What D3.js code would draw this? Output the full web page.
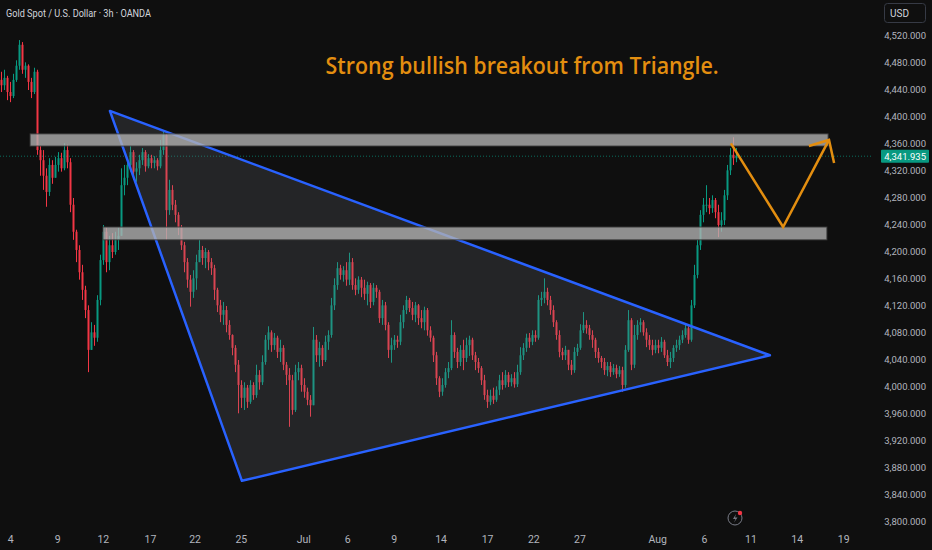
<!DOCTYPE html>
<html lang="en">
<head>
  <meta charset="UTF-8">
  <title>Gold Spot / U.S. Dollar 3h</title>
  <script src="https://d3js.org/d3.v7.min.js"></script>
  <style>
    html, body { margin: 0; padding: 0; background: #0f0f0f; overflow: hidden; }
    svg { display: block; }
  </style>
</head>
<body>
<script type="text/javascript">
    var width = 932, height = 550;

    // 3h candles (open = previous close)
    var firstOpen = 4455;
    var closes = [4447,4458,4437,4431,4455,4476,4507,4470,4476,4452,4437,4467,4351,4336,4313,4289,4329,4310,4329,4339,
      4324,4351,4333,4270,4230,4203,4170,4144,4114,4055,4081,4073,4129,4188,4230,4185,4210,4200,4218,4224,
      4299,4310,4329,4348,4319,4324,4336,4348,4327,4339,4332,4336,4327,4351,4373,4262,4292,4270,4255,4236,
      4210,4185,4159,4141,4161,4185,4203,4191,4200,4185,4176,4144,4121,4107,4114,4092,4077,4058,4033,4003,
      3984,3999,3978,4003,3988,4018,4007,4037,4070,4081,4062,4073,4052,4058,4033,4018,4010,3966,4022,4028,
      4003,3993,3981,3973,4070,4047,4058,4040,4067,4077,4121,4151,4176,4166,4173,4159,4185,4151,4144,4159,
      4147,4138,4151,4126,4147,4141,4102,4121,4092,4055,4062,4070,4067,4096,4114,4129,4117,4107,4121,4102,
      4096,4114,4084,4073,4047,4013,3993,4003,4022,4028,4077,4052,4037,4055,4043,4062,4070,4047,4037,4028,
      4010,3988,3978,3987,3981,3996,4010,4003,4018,4007,4013,4004,4022,4047,4058,4073,4067,4077,4073,4129,
      4132,4141,4129,4114,4096,4077,4052,4047,4055,4033,4025,4052,4058,4084,4092,4087,4077,4070,4052,4043,
      4037,4025,4031,4022,4028,4019,4025,4003,4055,4099,4033,4077,4092,4096,4081,4070,4062,4055,4062,4058,
      4067,4047,4037,4043,4058,4062,4070,4077,4087,4070,4121,4166,4210,4255,4270,4270,4265,4277,4259,4240,
      4247,4284,4321,4344,4339,4341.935];
    var highs = [4467,4470,4461,4452,4464,4484,4514,4511,4481,4478,4458,4473,4470,4357,4351,4324,4339,4336,4341,4348,
      4347,4361,4359,4339,4280,4233,4210,4181,4150,4121,4096,4092,4136,4196,4240,4236,4224,4228,4230,4236,
      4324,4329,4339,4357,4351,4333,4344,4354,4351,4345,4344,4342,4339,4366,4378,4375,4307,4299,4277,4259,
      4240,4215,4191,4166,4173,4196,4218,4209,4206,4203,4191,4181,4147,4129,4126,4120,4099,4078,4062,4040,
      4010,4007,4003,4010,4007,4033,4025,4047,4077,4090,4084,4080,4076,4070,4062,4037,4028,4018,4033,4037,
      4033,4013,3999,3988,4089,4077,4067,4062,4076,4084,4132,4161,4185,4181,4179,4185,4199,4191,4161,4164,
      4163,4159,4156,4154,4154,4151,4144,4129,4126,4096,4073,4077,4076,4107,4121,4135,4132,4126,4126,4123,
      4114,4119,4117,4090,4076,4052,4016,4013,4028,4037,4099,4081,4058,4062,4070,4073,4076,4073,4052,4043,
      4031,4018,3996,3996,3999,4001,4018,4022,4025,4022,4019,4022,4033,4059,4065,4079,4080,4084,4084,4136,
      4141,4161,4147,4135,4121,4099,4084,4058,4061,4055,4040,4059,4064,4093,4111,4099,4092,4084,4073,4058,
      4046,4043,4037,4037,4034,4033,4031,4030,4062,4114,4102,4092,4099,4102,4099,4087,4077,4070,4070,4070,
      4074,4070,4055,4052,4062,4070,4076,4084,4092,4090,4129,4181,4218,4262,4280,4299,4280,4284,4280,4270,
      4259,4292,4329,4354,4370,4354];
    var lows = [4437,4440,4425,4422,4428,4452,4470,4464,4458,4440,4428,4434,4344,4313,4292,4267,4283,4301,4313,4319,
      4319,4321,4324,4259,4218,4185,4159,4129,4102,4022,4062,4061,4067,4121,4181,4170,4173,4191,4196,4203,
      4277,4284,4299,4319,4307,4304,4314,4329,4319,4324,4324,4324,4321,4324,4344,4218,4255,4262,4244,4225,
      4203,4170,4147,4119,4132,4144,4185,4181,4176,4173,4166,4129,4111,4096,4092,4081,4070,4047,4022,3961,
      3969,3966,3969,3975,3981,3984,3996,4003,4033,4055,4052,4055,4043,4037,4025,4003,3941,3959,3963,4010,
      3993,3984,3973,3956,3973,4037,4030,4031,4037,4055,4073,4114,4144,4159,4156,4150,4151,4144,4136,4138,
      4133,4129,4121,4117,4121,4132,4095,4092,4084,4043,4036,4055,4058,4062,4087,4108,4111,4099,4096,4092,
      4087,4084,4076,4067,4037,4003,3985,3987,3999,4013,4025,4043,4028,4031,4025,4037,4046,4040,4025,4021,
      4003,3981,3969,3973,3975,3978,3988,3996,3999,4000,4001,3999,4000,4018,4040,4052,4058,4062,4067,4070,
      4120,4124,4121,4107,4089,4070,4044,4040,4040,4025,4018,4021,4046,4055,4080,4079,4070,4058,4043,4036,
      4028,4018,4016,4015,4018,4013,4015,3993,3999,4052,4025,4028,4070,4081,4076,4059,4055,4047,4050,4050,
      4052,4043,4031,4028,4037,4052,4055,4065,4073,4064,4067,4117,4161,4203,4244,4259,4256,4258,4250,4222,
      4230,4240,4277,4314,4329,4333];

    // time axis labels and the bar they sit under
    var tickLabels = ["4","9","12","17","22","25","Jul","6","9","14","17","22","27","Aug","6","11","14","19"];
    var tickBars   = [3.2,18.9,34.1,49.8,64.7,80.1,100.9,115.6,131.1,146.7,162.2,177.6,193,218.9,234.5,250,265.4,280.9];

    // price axis
    var priceTicks = d3.range(3800, 4521, 40);
    var lastPrice = 4341.935;

    // drawings, anchored at [bar, price]
    var triangle = [[36.3, 4409], [80.3, 3861], [256.3, 4047]];
    var zoneTop = {from: 9.7, to: 275.7, hi: 4375, lo: 4357};
    var zoneLow = {from: 34, to: 275.3, hi: 4237, lo: 4218};
    var projection = [[243.3, 4361], [260.7, 4237], [276, 4366]];
    var arrowHead = [[269.3, 4357], [276, 4366], [277.7, 4332]];
    var note = {bar: 173.7, price: 4464, text: "Strong bullish breakout from Triangle."};

    var up = "#089981", down = "#f23645";

    var candles = closes.map(function(c, i){
      var o = i === 0 ? firstOpen : closes[i-1];
      return {i: i, o: o, c: c,
              h: Math.max(highs[i], o, c),
              l: Math.min(lows[i], o, c)};
    });

    var x = d3.scaleLinear().domain([0, 300]).range([1, 901]);
    var y = d3.scaleLinear().domain([3800, 4520]).range([522, 36]);

    var svg = d3.select("body").append("svg")
                .attr("width", width)
                .attr("height", height)
                .style("font-family", "Roboto, 'Open Sans', sans-serif");

    svg.append("rect").attr("width", width).attr("height", height).attr("fill", "#0f0f0f");

    // last price dotted line
    svg.append("line")
       .attr("x1", 0).attr("x2", 872)
       .attr("y1", y(lastPrice)).attr("y2", y(lastPrice))
       .attr("stroke", up).attr("stroke-opacity", 0.7)
       .attr("stroke-width", 1).attr("stroke-dasharray", "1,2");

    // candles
    var g = svg.append("g");
    g.selectAll("line.wick")
     .data(candles)
     .enter()
     .append("line")
     .attr("class", "wick")
     .attr("x1", function(d){ return x(d.i) + 0.5; })
     .attr("x2", function(d){ return x(d.i) + 0.5; })
     .attr("y1", function(d){ return y(d.h); })
     .attr("y2", function(d){ return y(d.l); })
     .attr("stroke", function(d){ return d.c >= d.o ? up : down; })
     .attr("stroke-width", 1);

    g.selectAll("rect.body")
     .data(candles)
     .enter()
     .append("rect")
     .attr("class", "body")
     .attr("x", function(d){ return x(d.i) - 0.5; })
     .attr("width", 2)
     .attr("y", function(d){ return y(Math.max(d.o, d.c)); })
     .attr("height", function(d){ return Math.max(1, Math.abs(y(d.o) - y(d.c))); })
     .attr("fill", function(d){ return d.c >= d.o ? up : down; });

    // triangle
    svg.append("path")
       .attr("d", d3.line().x(function(d){ return x(d[0]); }).y(function(d){ return y(d[1]); })(triangle) + "Z")
       .attr("fill", "rgba(120,123,134,0.2)")
       .attr("stroke", "#2962ff")
       .attr("stroke-width", 2.5)
       .attr("stroke-linejoin", "round");

    // zones
    [zoneTop, zoneLow].forEach(function(z){
      svg.append("rect")
         .attr("x", x(z.from)).attr("width", x(z.to) - x(z.from))
         .attr("y", y(z.hi)).attr("height", y(z.lo) - y(z.hi))
         .attr("fill", "rgba(180,180,180,0.78)")
         .attr("stroke", "rgba(60,60,60,0.9)")
         .attr("stroke-width", 1);
    });

    // projected path
    var pline = d3.line().x(function(d){ return x(d[0]); }).y(function(d){ return y(d[1]); });
    svg.append("path").attr("d", pline(projection))
       .attr("fill", "none").attr("stroke", "#e38e10")
       .attr("stroke-width", 2.5).attr("stroke-linejoin", "miter");
    svg.append("path").attr("d", pline(arrowHead))
       .attr("fill", "none").attr("stroke", "#e38e10")
       .attr("stroke-width", 2.5).attr("stroke-linejoin", "miter");

    // note
    svg.append("text")
       .attr("x", x(note.bar)).attr("y", y(note.price))
       .attr("text-anchor", "middle")
       .attr("fill", "#e38e10")
       .attr("font-size", 24).attr("font-weight", 600)
       .attr("font-family", "'Open Sans', sans-serif")
       .attr("textLength", 393).attr("lengthAdjust", "spacingAndGlyphs")
       .text(note.text);

    // title
    svg.append("text")
       .attr("x", 6).attr("y", 17)
       .attr("fill", "#d1d4dc").attr("font-size", 11)
       .attr("textLength", 145).attr("lengthAdjust", "spacingAndGlyphs")
       .text("Gold Spot / U.S. Dollar \u00b7 3h \u00b7 OANDA");

    // price axis
    var yAxis = svg.append("g").attr("class", "y-axis");
    yAxis.selectAll("text")
         .data(priceTicks)
         .enter()
         .append("text")
         .attr("x", 926)
         .attr("y", function(d){ return y(d); })
         .attr("dy", "0.35em")
         .attr("text-anchor", "end")
         .attr("fill", "#b2b5be")
         .attr("font-size", 9.5)
         .text(function(d){ return d3.format(",.3f")(d); });

    svg.append("rect")
       .attr("x", 884.5).attr("y", 3.5).attr("width", 41).attr("height", 19).attr("rx", 3)
       .attr("fill", "#0f0f0f").attr("stroke", "#363a45");
    svg.append("text").attr("x", 890).attr("y", 16.5)
       .attr("fill", "#d1d4dc").attr("font-size", 10).text("USD");

    // last price label
    svg.append("rect")
       .attr("x", 881).attr("y", y(lastPrice) - 6.5).attr("width", 48).attr("height", 13)
       .attr("rx", 1).attr("fill", up);
    svg.append("text")
       .attr("x", 926).attr("y", y(lastPrice)).attr("dy", "0.35em")
       .attr("text-anchor", "end").attr("fill", "#ffffff").attr("font-size", 9.5)
       .text(d3.format(",.3f")(lastPrice));

    // time axis
    svg.append("g").selectAll("text")
       .data(tickLabels)
       .enter()
       .append("text")
       .attr("x", function(d, i){ return x(tickBars[i]); })
       .attr("y", 543)
       .attr("text-anchor", "middle")
       .attr("fill", "#b2b5be")
       .attr("font-size", 10.5)
       .text(function(d){ return d; });

    // lightning icon
    var icon = svg.append("g").attr("transform", "translate(735,518)");
    icon.append("circle").attr("r", 7).attr("fill", "none").attr("stroke", "#787b86").attr("stroke-width", 1);
    icon.append("path").attr("d", "M1,-4 L-2,1 L0.5,1 L-1,4.5 L2.5,-0.5 L0,-0.5 Z").attr("fill", "#787b86");
    icon.append("circle").attr("cx", 5).attr("cy", -5).attr("r", 2.2).attr("fill", down);
</script>
</body>
</html>
